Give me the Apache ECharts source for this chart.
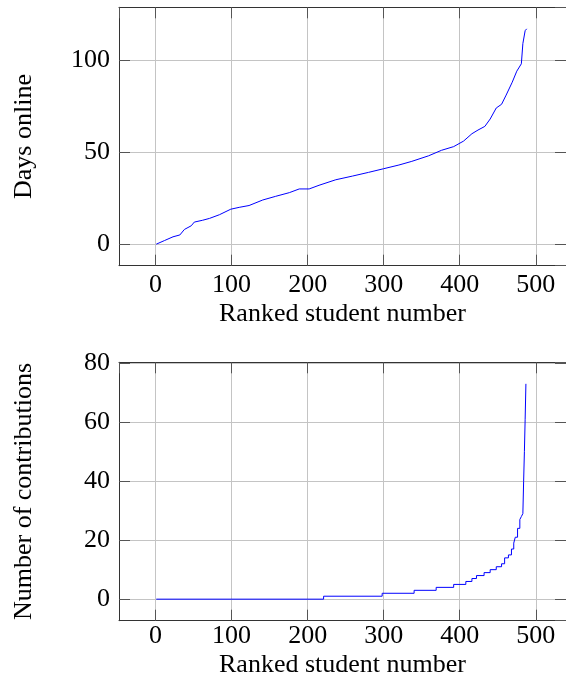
<!DOCTYPE html>
<html>
<head>
<meta charset="utf-8">
<script src="https://cdn.jsdelivr.net/npm/echarts@6/dist/echarts.min.js"></script>
<style>
  html, body { margin: 0; padding: 0; background: #ffffff; }
  #chart { width: 566px; height: 691px; }
</style>
</head>
<body>
<div id="chart"></div>
<script>
// ranked student number vs days online
const daysRank = [1, 12, 23, 32, 38, 47, 51, 62, 71, 84, 99, 110, 123, 141, 158, 176, 189, 202, 215, 237,
  259, 280, 300, 320, 337, 359, 376, 392, 405, 416, 424, 433, 440, 448, 455, 461, 469, 475, 481, 483, 486, 488];
const daysOnline = [0, 2, 4, 5, 8, 10, 12, 13, 14, 16, 19, 20, 21, 24, 26, 28, 30, 30, 32, 35,
  37, 39, 41, 43, 45, 48, 51, 53, 56, 60, 62, 64, 68, 74, 76, 81, 88, 94, 98, 109, 116, 117];

// rank where each contribution level starts
const contribRank = [1, 221, 298, 340, 369, 392, 408, 416, 422, 432, 440, 448, 455, 459, 464, 468, 471,
  473, 476, 479, 481, 483, 484, 485, 486, 487];
const contributions = [0, 1, 2, 3, 4, 5, 6, 7, 8, 9, 10, 11, 12, 14, 15, 17, 19,
  21, 24, 27, 28, 29, 40, 50, 61, 73];

const xTicks = [0, 100, 200, 300, 400, 500];
const daysTicks = [0, 50, 100];
const contribTicks = [0, 20, 40, 60, 80];

const font = 'Liberation Serif';
const boxColor = '#333333';
const gridColor = '#c4c4c4';

function pairs(xs, ys) {
  return xs.map((x, i) => [x, ys[i]]);
}

function tickFmt(list) {
  return v => (list.indexOf(v) >= 0 ? String(v) : '');
}

function xAxisMain(gridIndex, labelMargin, nameGap) {
  return {
    type: 'value', gridIndex: gridIndex, position: 'bottom',
    min: -48, max: 539.7,
    name: 'Ranked student number', nameLocation: 'middle', nameGap: nameGap,
    nameTextStyle: { fontFamily: font, fontSize: 26, color: '#000' },
    axisLine: { show: true, onZero: false, lineStyle: { color: boxColor, width: 1 } },
    axisTick: { show: true, inside: true, length: 11, lineStyle: { color: '#555', width: 1 } },
    axisLabel: { fontFamily: font, fontSize: 26, color: '#000', margin: labelMargin,
      showMinLabel: false, showMaxLabel: false, formatter: tickFmt(xTicks) },
    splitLine: { show: true, lineStyle: { color: gridColor, width: 1 } }
  };
}

function xAxisTop(gridIndex) {
  return {
    type: 'value', gridIndex: gridIndex, position: 'top',
    min: -48, max: 539.7,
    axisLine: { show: true, onZero: false, lineStyle: { color: boxColor, width: 1 } },
    axisTick: { show: true, inside: true, length: 11, lineStyle: { color: '#555', width: 1 } },
    axisLabel: { show: false },
    splitLine: { show: false }
  };
}

function yAxisMain(gridIndex, min, max, split, ticks, name) {
  return {
    type: 'value', gridIndex: gridIndex, position: 'left',
    min: min, max: max, splitNumber: split,
    name: name, nameLocation: 'middle', nameGap: 82,
    nameTextStyle: { fontFamily: font, fontSize: 26, color: '#000' },
    axisLine: { show: true, onZero: false, lineStyle: { color: boxColor, width: 1 } },
    axisTick: { show: true, inside: true, length: 11, lineStyle: { color: '#555', width: 1 } },
    axisLabel: { fontFamily: font, fontSize: 26, color: '#000', margin: 9,
      showMinLabel: false, showMaxLabel: false, formatter: tickFmt(ticks) },
    splitLine: { show: true, lineStyle: { color: gridColor, width: 1 } }
  };
}

function yAxisRight(gridIndex, min, max, split) {
  return {
    type: 'value', gridIndex: gridIndex, position: 'right',
    min: min, max: max, splitNumber: split,
    axisLine: { show: true, onZero: false, lineStyle: { color: boxColor, width: 1 } },
    axisTick: { show: true, inside: true, length: 11, lineStyle: { color: '#555', width: 1 } },
    axisLabel: { show: false },
    splitLine: { show: false }
  };
}

const chart = echarts.init(document.getElementById('chart'), null, { renderer: 'canvas' });
chart.setOption({
  animation: false,
  backgroundColor: '#ffffff',
  grid: [
    { left: 119, right: -2, top: 7.3, bottom: 425.3 },
    { left: 119, right: -2, top: 362.3, bottom: 70.3 }
  ],
  xAxis: [
    xAxisMain(0, 6, 35),
    xAxisTop(0),
    xAxisMain(1, 2, 31),
    xAxisTop(1)
  ],
  yAxis: [
    yAxisMain(0, -11.7, 128.7, 3, daysTicks, 'Days online'),
    yAxisRight(0, -11.7, 128.7, 3),
    yAxisMain(1, -7.3, 80.3, 4, contribTicks, 'Number of contributions'),
    yAxisRight(1, -7.3, 80.3, 4)
  ],
  series: [
    {
      type: 'line', xAxisIndex: 0, yAxisIndex: 0,
      data: pairs(daysRank, daysOnline),
      showSymbol: false, symbol: 'none',
      lineStyle: { color: '#0000ff', width: 1 }
    },
    {
      type: 'line', xAxisIndex: 2, yAxisIndex: 2,
      data: pairs(contribRank, contributions),
      step: 'end',
      showSymbol: false, symbol: 'none',
      lineStyle: { color: '#0000ff', width: 1 }
    }
  ]
});
</script>
</body>
</html>
